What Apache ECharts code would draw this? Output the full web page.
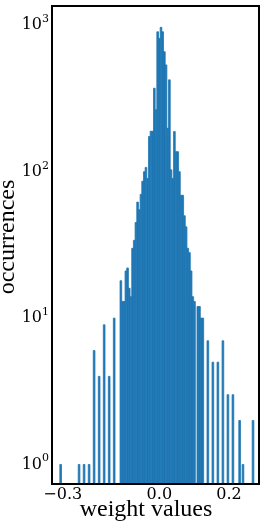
<!DOCTYPE html>
<html><head><meta charset="utf-8">
<script src="https://cdn.jsdelivr.net/npm/echarts@6/dist/echarts.min.js"></script>
<style>html,body{margin:0;padding:0;background:#fff;}#c{width:266px;height:524px;}</style>
</head><body><div id="c"></div>
<script>
// histogram bins (bin centres in weight units) and their counts
const binWidth = 0.005;
const binCenters = [
  -0.295, -0.240, -0.225, -0.210, -0.195, -0.180, -0.165, -0.150, -0.135,
  -0.115, -0.110, -0.105, -0.100, -0.095, -0.090, -0.085, -0.080, -0.075,
  -0.070, -0.065, -0.060, -0.055, -0.050, -0.045, -0.040, -0.035, -0.030,
  -0.025, -0.020, -0.015, -0.010, -0.005, 0.000, 0.005, 0.010, 0.015,
  0.020, 0.025, 0.030, 0.035, 0.040, 0.045, 0.050, 0.055, 0.060,
  0.065, 0.070, 0.075, 0.080, 0.085, 0.090, 0.095, 0.100, 0.105,
  0.115, 0.120, 0.125, 0.130, 0.145, 0.160, 0.175, 0.190, 0.205,
  0.220, 0.240, 0.250, 0.280
];
const binCounts = [
  1, 1, 1, 1, 6, 4, 9, 4, 10,
  18, 13, 13, 21, 22, 16, 14, 30, 34,
  45, 62, 55, 70, 86, 100, 107, 90, 174,
  189, 189, 372, 265, 903, 814, 969, 903, 660,
  536, 198, 424, 103, 90, 188, 137, 137, 100,
  69, 69, 50, 42, 30, 28, 21, 14, 13,
  12, 12, 10, 10, 7, 5, 5, 7, 3,
  3, 2, 1, 2
];
const xTickValues = [-0.2887, 0.0, 0.2084];
const xTickLabels = ['\u22120.3', '0.0', '0.2'];
const yTickValues = [1, 10, 100, 1000];
const yTickExponents = ['0', '1', '2', '3'];
const xTitle = 'weight values';
const yTitle = 'occurrences';
const xMin = -0.3209, xMax = 0.2979;
const yMin = 0.736, yMax = 1355;

const chart = echarts.init(document.getElementById('c'), null, {renderer: 'canvas'});
const data = binCenters.map((c, i) => [c, binCounts[i]]);
chart.setOption({
  animation: false,
  backgroundColor: '#ffffff',
  grid: {
    left: 52, right: 7, top: 6, bottom: 40,
    show: true, z: 10, backgroundColor: 'transparent',
    borderColor: '#000000', borderWidth: 2,
    outerBoundsMode: 'none', containLabel: false
  },
  xAxis: {
    type: 'value', min: xMin, max: xMax,
    axisLine: {show: false}, axisTick: {show: false}, splitLine: {show: false},
    axisLabel: {
      customValues: xTickValues,
      margin: 3,
      fontFamily: 'DejaVu Serif', fontSize: 16, color: '#000',
      formatter: function (v) {
        let best = 0;
        xTickValues.forEach((t, i) => { if (Math.abs(t - v) < Math.abs(xTickValues[best] - v)) best = i; });
        return xTickLabels[best];
      }
    }
  },
  yAxis: {
    type: 'log', logBase: 10, min: yMin, max: yMax,
    axisLine: {show: false}, axisTick: {show: false}, splitLine: {show: false},
    axisLabel: {
      showMinLabel: false, showMaxLabel: false,
      margin: 3,
      color: '#000',
      formatter: function (v) {
        const e = Math.round(Math.log10(v));
        const idx = yTickValues.indexOf(Math.pow(10, e));
        if (idx < 0 || Math.abs(Math.log10(v) - e) > 1e-6) return '';
        return '{b|10}{s|' + yTickExponents[idx] + '}';
      },
      rich: {
        b: {fontFamily: 'DejaVu Serif', fontSize: 16, color: '#000'},
        s: {fontFamily: 'DejaVu Serif', fontSize: 11, color: '#000', padding: [0, 0, 12, 0]}
      }
    }
  },
  graphic: [
    {type: 'text', x: 146, y: 510, style: {text: xTitle, fontFamily: 'Liberation Serif', fontSize: 24, fill: '#000', textAlign: 'center', textVerticalAlign: 'middle'}},
    {type: 'text', x: 8, y: 237, rotation: Math.PI / 2, style: {text: yTitle, fontFamily: 'Liberation Serif', fontSize: 24, fill: '#000', textAlign: 'center', textVerticalAlign: 'middle'}}
  ],
  series: [{
    type: 'custom',
    data: data,
    encode: {x: 0, y: 1},
    renderItem: function (params, api) {
      const x = api.value(0), c = api.value(1);
      const p1 = api.coord([x - binWidth / 2, c]);
      const p2 = api.coord([x + binWidth / 2, yMin]);
      return {
        type: 'rect',
        shape: {x: p1[0], y: p1[1], width: p2[0] - p1[0], height: p2[1] - p1[1]},
        style: {fill: '#1f77b4', stroke: '#1f77b4', lineWidth: 0.8}
      };
    }
  }]
});
</script>
</body></html>
